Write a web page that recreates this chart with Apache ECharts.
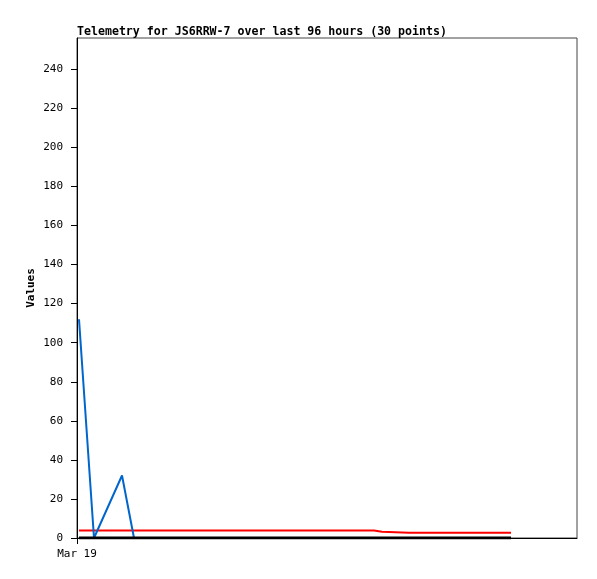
<!DOCTYPE html>
<html><head><meta charset="utf-8">
<script src="https://cdn.jsdelivr.net/npm/echarts@6/dist/echarts.min.js"></script>
<style>html,body{margin:0;padding:0;background:#fff}#c{width:597px;height:579px}</style>
</head><body><div id="c"></div>
<script>
// hours since start (Mar 19)
const times = [0.4, 3.4, 6.2, 9.0, 11.4, 14.3, 17.2, 20.1, 23.0, 26.0, 28.9, 31.8, 34.7, 37.6, 40.5, 43.4, 46.3, 49.2, 52.1, 55.0, 59.4, 59.7, 61.0, 61.3, 66.4, 71.5, 76.6, 81.7, 84.2, 86.8];
const blueVals = [112, 0, 16, 32, 0, null, null, null, null, null, null, null, null, null, null, null, null, null, null, null, null, null, null, null, null, null, null, null, null, null];
const redVals = [3.8, 3.8, 3.8, 3.8, 3.8, 3.8, 3.8, 3.8, 3.8, 3.8, 3.8, 3.8, 3.8, 3.8, 3.8, 3.8, 3.8, 3.8, 3.8, 3.8, 3.8, 3.2, 3.2, 2.7, 2.7, 2.7, 2.7, 2.7, 2.7, 2.7];
const blackVals = [0, 0, 0, 0, 0, 0, 0, 0, 0, 0, 0, 0, 0, 0, 0, 0, 0, 0, 0, 0, 0, 0, 0, 0, 0, 0, 0, 0, 0, 0];
const xTickLabels = {0: 'Mar 19'};
const titleText = 'Telemetry for JS6RRW-7 over last 96 hours (30 points)';
const yName = 'Values';

const pair = v => times.map((t, i) => [t, v[i]]);
const font = 'DejaVu Sans Mono';
const chart = echarts.init(document.getElementById('c'), null, {renderer: 'canvas'});
chart.setOption({
  animation: false,
  backgroundColor: '#fff',
  title: {text: titleText, left: 72, top: 21, textStyle: {fontFamily: font, fontSize: 11.6, fontWeight: 'bold', color: '#000'}},
  grid: {left: 77, top: 38, width: 500, height: 500, show: true, borderColor: '#444', borderWidth: 1, backgroundColor: 'transparent'},
  xAxis: {type: 'value', min: 0, max: 100, interval: 100,
    axisLine: {show: true, onZero: false, lineStyle: {color: '#000', width: 1}},
    axisTick: {show: true, length: 6, lineStyle: {color: '#000'}},
    axisLabel: {showMaxLabel: false, fontFamily: font, fontSize: 11, color: '#000', margin: 11, formatter: v => xTickLabels[v] || ''},
    splitLine: {show: false}},
  yAxis: {type: 'value', min: 0, max: 256, interval: 20, name: yName, nameLocation: 'middle', nameGap: 40, nameMoveOverlap: false,
    nameTextStyle: {fontFamily: font, fontSize: 11, fontWeight: 'bold', color: '#000'},
    axisLine: {show: true, lineStyle: {color: '#000', width: 1}},
    axisTick: {show: true, length: 6, lineStyle: {color: '#000'}},
    axisLabel: {showMaxLabel: false, fontFamily: font, fontSize: 11, color: '#000', margin: 14},
    splitLine: {show: false}},
  series: [
    {type: 'line', data: pair(redVals), showSymbol: false, lineStyle: {color: '#ff0000', width: 2}, z: 2},
    {type: 'line', data: pair(blueVals), showSymbol: false, connectNulls: false, lineStyle: {color: '#0066cc', width: 2}, z: 3},
    {type: 'line', data: pair(blackVals), showSymbol: false, lineStyle: {color: '#000', width: 3}, z: 4}
  ]
});
</script></body></html>
